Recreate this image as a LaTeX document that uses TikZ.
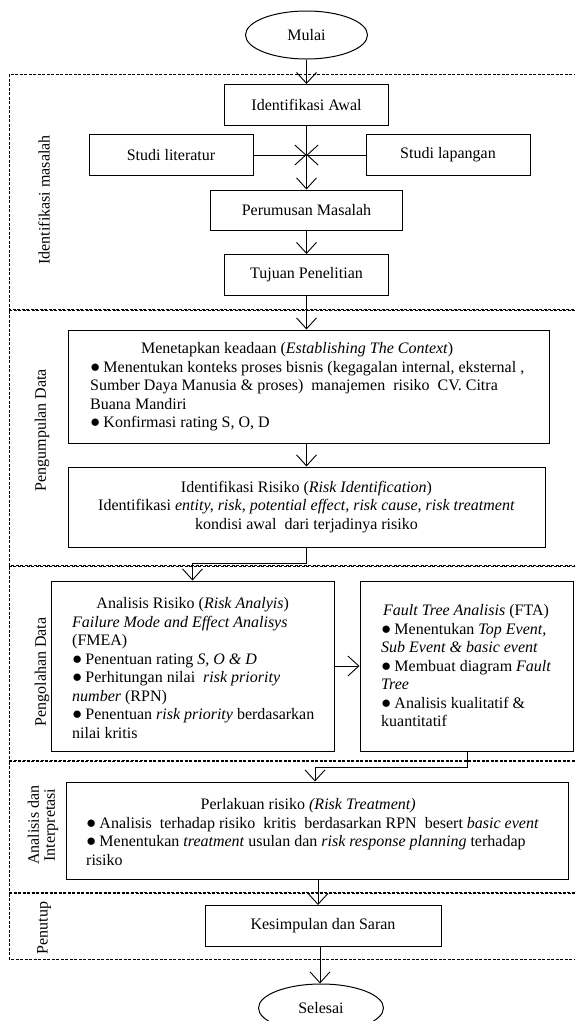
\documentclass[tikz,border=0pt]{standalone}
\usepackage{fontspec}
\setmainfont{Liberation Serif}
\usetikzlibrary{arrows.meta,shapes.geometric,calc}
\newcommand{\bul}{{\fontsize{17}{17}\selectfont ●}\hspace{3pt}}
\begin{document}
\begin{tikzpicture}[x=1pt,y=-1pt,
  every node/.style={font=\fontsize{16}{18.5}\selectfont},
  box/.style={draw,line width=1pt,inner sep=0pt,align=center},
  oval/.style={draw,ellipse,line width=1pt,inner sep=0pt},
  txt/.style={inner sep=0pt,align=left,anchor=west},
  side/.style={inner sep=0pt,rotate=90,align=center},
  conn/.style={line width=0.9pt},
  arr/.style={conn,-{Straight Barb[length=11pt,width=20pt,line width=0.9pt]}},
  sect/.style={line width=0.9pt,dash pattern=on 3pt off 1.5pt},
]
\useasboundingbox (0,0) rectangle (575,1021);
\clip (0,0) rectangle (575,1021);

% sections
\draw[sect] (9,74) rectangle (600,309);
\draw[sect] (9,310.5) rectangle (600,565);
\draw[sect] (9,566.5) rectangle (600,760);
\draw[sect] (9,761.5) rectangle (600,892);
\draw[sect] (9,893.5) rectangle (600,959);

% side labels
\node[side] (l1) at (44,200) {Identifikasi masalah};
\node[side] (l2) at (42,430) {Pengumpulan Data};
\node[side] (l3) at (42,672) {Pengolahan Data};
\node[side, font=\fontsize{16}{16}\selectfont] (l4) at (43,825) {Analisis dan\\Interpretasi};
\node[side] (l5) at (44,928) {Penutup};

% nodes
\node[oval, minimum width=122pt, minimum height=48pt] (start) at (306.5,35) {Mulai};
\node[box, minimum width=164pt, minimum height=41pt] (ia) at (306.5,105) {Identifikasi Awal};
\node[box, minimum width=164pt, minimum height=41pt] (sl) at (171,155) {Studi literatur};
\node[box, minimum width=164pt, minimum height=41pt] (slap) at (448,155) {Studi lapangan};
\coordinate (J) at (306.5,155);
\node[box, minimum width=192pt, minimum height=40pt] (pm) at (306.5,210) {Perumusan Masalah};
\node[box, minimum width=164pt, minimum height=41pt] (tp) at (306.5,275) {Tujuan Penelitian};

\node[box, minimum width=481pt, minimum height=113pt] (ctx) at (308.5,386.5) {};
\node[txt] (ctxT) at (90,387) {\makebox[414pt]{Menetapkan keadaan (\textit{Establishing The Context})}\\
\bul Menentukan konteks proses bisnis (kegagalan internal, eksternal ,\\
Sumber Daya Manusia \& proses)\ \ manajemen\ \ risiko\ \ CV. Citra\\
Buana Mandiri\\
\bul Konfirmasi rating S, O, D};

\node[box, minimum width=477pt, minimum height=80pt] (rid) at (306.5,507) {Identifikasi Risiko (\textit{Risk Identification})\\
Identifikasi \textit{entity, risk, potential effect, risk cause, risk treatment}\\
kondisi awal\ \ dari terjadinya risiko};

\node[box, minimum width=283pt, minimum height=170pt] (ana) at (192.5,666) {};
\node[txt] (anaT) at (72,668) {\makebox[241pt]{Analisis Risiko (\textit{Risk Analyis})}\\
\textit{Failure Mode and Effect Analisys}\\
(FMEA)\\
\bul Penentuan rating \textit{S, O \& D}\\
\bul Perhitungan nilai\ \ \textit{risk priority}\\
\textit{number} (RPN)\\
\bul Penentuan \textit{risk priority} berdasarkan\\
nilai kritis};

\node[box, minimum width=213pt, minimum height=170pt] (fta) at (466.5,666) {};
\node[txt] (ftaT) at (381,666) {\hspace{2pt}\textit{Fault Tree Analisis} (FTA)\\
\bul Menentukan \textit{Top Event,}\\
\textit{Sub Event \& basic event}\\
\bul Membuat diagram \textit{Fault}\\
\textit{Tree}\\
\bul Analisis kualitatif \&\\
kuantitatif};

\node[box, minimum width=502pt, minimum height=97pt] (trt) at (317,830.5) {};
\node[txt] (trtT) at (86,832) {\makebox[444pt]{Perlakuan risiko \textit{(Risk Treatment)}}\\
\bul Analisis\ \ terhadap risiko\ \ kritis\ \ berdasarkan RPN\ \ besert \textit{basic event}\\
\bul Menentukan \textit{treatment} usulan dan \textit{risk response planning} terhadap\\
risiko};

\node[box, minimum width=236pt, minimum height=41pt] (ks) at (323,926) {Kesimpulan dan Saran};
\node[oval, minimum width=125pt, minimum height=48pt] (end) at (321,1008) {Selesai};

% bend points
\coordinate (b1) at (306,563);
\coordinate (b2) at (192.5,563);
\coordinate (b3) at (467,767);
\coordinate (b4) at (315,767);

% connectors
\draw[arr] (start.south) -- (ia.north);
\draw[conn] (ia.south) -- (J);
\draw[arr] (sl.east) -- (J);
\draw[arr] (slap.west) -- (J);
\draw[arr] (J) -- (pm.north);
\draw[arr] (pm.south) -- (tp.north);
\draw[arr] (tp.south) -- (tp.south |- ctx.north);
\draw[arr] (ctx.south -| tp.south) -- (tp.south |- rid.north);
\draw[conn] (rid.south -| b1) -- (b1) -- (b2);
\draw[arr] (b2) -- (ana.north);
\draw[arr] (ana.east) -- (fta.west);
\draw[conn] (fta.south -| b3) -- (b3) -- (b4);
\draw[arr] (b4) -- (b4 |- trt.north);
\draw[arr] (trt.south -| 318,0) -- (ks.north -| 318,0);
\draw[arr] (ks.south -| 320,0) -- (end.north -| 320,0);
\end{tikzpicture}
\end{document}
